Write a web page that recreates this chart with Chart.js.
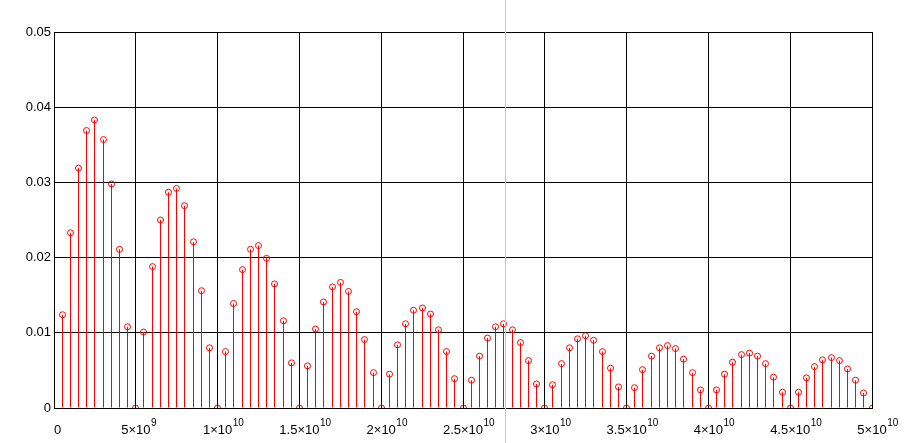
<!DOCTYPE html>
<html lang="en">
<head>
  <meta charset="UTF-8">
  <title>Stem plot</title>
  <style>
    body { margin: 0; background: white; }
    canvas#stemCanvas { display: block; }
  </style>
  <script src="https://cdn.jsdelivr.net/npm/chart.js"></script>
</head>
<body>
  <canvas id="stemCanvas" width="909" height="443"></canvas>

  <script>
    // sample spacing on the x axis (k * 5e8, k = 1..100)
    const sampleStep = 5e8;

    // amplitudes, one lobe per row
    const amplitudes = [
      0.0124, 0.0233, 0.0319, 0.0369, 0.0383, 0.0357, 0.0298, 0.0211, 0.0108, 0,
      0.0101, 0.0188, 0.0250, 0.0287, 0.0292, 0.0269, 0.0221, 0.0156, 0.0080, 0,
      0.0075, 0.0139, 0.0184, 0.0211, 0.0216, 0.0199, 0.0165, 0.0116, 0.0060, 0,
      0.0056, 0.0105, 0.0141, 0.0161, 0.0167, 0.0155, 0.0128, 0.0091, 0.0047, 0,
      0.0045, 0.0084, 0.0112, 0.0130, 0.0133, 0.0125, 0.0104, 0.0075, 0.0039, 0,
      0.0037, 0.0069, 0.0093, 0.0108, 0.0112, 0.0104, 0.0087, 0.0063, 0.0032, 0,
      0.0031, 0.0059, 0.0080, 0.0092, 0.0096, 0.0090, 0.0075, 0.0053, 0.0028, 0,
      0.0027, 0.0051, 0.0069, 0.0080, 0.0083, 0.0079, 0.0065, 0.0047, 0.0024, 0,
      0.0024, 0.0045, 0.0061, 0.0071, 0.0073, 0.0069, 0.0059, 0.0041, 0.0021, 0,
      0.0021, 0.0040, 0.0055, 0.0064, 0.0067, 0.0063, 0.0052, 0.0037, 0.0020, 0
    ];

    // x tick positions and their labels (mantissa part, exponent part)
    const xTickValues = [0, 5e9, 1e10, 1.5e10, 2e10, 2.5e10, 3e10, 3.5e10, 4e10, 4.5e10, 5e10];
    const xTickBase = ["0", "5×10", "1×10", "1.5×10", "2×10", "2.5×10", "3×10", "3.5×10", "4×10", "4.5×10", "5×10"];
    const xTickExp = ["", "9", "10", "10", "10", "10", "10", "10", "10", "10", "10"];

    // grey trace cursor position
    const cursorX = 2.76e10;

    const points = amplitudes.map((v, i) => ({ x: (i + 1) * sampleStep, y: v }));

    // snap stems and markers to pixel centres so the 1px stems stay crisp
    const snapX = {
      id: "snapX",
      afterDatasetsUpdate(chart) {
        chart.data.datasets.forEach((ds, i) => {
          chart.getDatasetMeta(i).data.forEach(el => {
            el.x = Math.floor(el.x) + 0.5;
          });
        });
      }
    };

    const xLabels = {
      id: "xLabels",
      afterDraw(chart) {
        const ctx = chart.ctx;
        const xs = chart.scales.x;
        ctx.save();
        ctx.fillStyle = "#000";
        ctx.textBaseline = "alphabetic";
        xTickValues.forEach((v, i) => {
          const px = xs.getPixelForValue(v);
          ctx.font = "13px 'Liberation Sans', Arial, sans-serif";
          const w = ctx.measureText(xTickBase[i]).width;
          const left = i === 0 ? px : px - w / 2;
          ctx.textAlign = "left";
          ctx.fillText(xTickBase[i], left, 433.5);
          if (xTickExp[i]) {
            ctx.font = "10px 'Liberation Sans', Arial, sans-serif";
            ctx.fillText(xTickExp[i], left + w + 0.5, 426);
          }
        });
        // cursor line
        const cx = Math.floor(xs.getPixelForValue(cursorX)) + 0.5;
        ctx.strokeStyle = "#c4c4c4";
        ctx.lineWidth = 1;
        ctx.beginPath();
        ctx.moveTo(cx, 0);
        ctx.lineTo(cx, chart.height);
        ctx.stroke();
        ctx.restore();
      }
    };

    new Chart(document.getElementById("stemCanvas"), {
      type: "bar",
      data: {
        datasets: [{
          type: "scatter",
          data: points,
          pointRadius: 3,
          pointHoverRadius: 3,
          pointBorderWidth: 1,
          pointBorderColor: "#ff0000",
          pointBackgroundColor: "rgba(0,0,0,0)",
          order: 0
        }, {
          type: "bar",
          data: points,
          backgroundColor: "#ff0000",
          barThickness: 1,
          inflateAmount: 0,
          order: 1
        }]
      },
      options: {
        responsive: false,
        animation: false,
        events: [],
        layout: { padding: { left: 0, right: 37, top: 32, bottom: 0 } },
        plugins: {
          legend: { display: false },
          tooltip: { enabled: false }
        },
        scales: {
          x: {
            type: "linear",
            min: 0,
            max: 5e10,
            offset: false,
            afterBuildTicks: s => { s.ticks = xTickValues.map(v => ({ value: v })); },
            afterFit: s => { s.height = 35; },
            ticks: { display: false },
            grid: { color: "#000", lineWidth: 1, drawTicks: false, offset: false },
            border: { color: "#000", width: 1 }
          },
          y: {
            min: 0,
            max: 0.05,
            afterFit: s => { s.width = 54; },
            ticks: {
              stepSize: 0.01,
              padding: 3,
              color: "#000",
              font: { family: "'Liberation Sans', Arial, sans-serif", size: 13 }
            },
            grid: { color: "#000", lineWidth: 1, drawTicks: false },
            border: { color: "#000", width: 1 }
          }
        }
      },
      plugins: [snapX, xLabels]
    });
  </script>
</body>
</html>
